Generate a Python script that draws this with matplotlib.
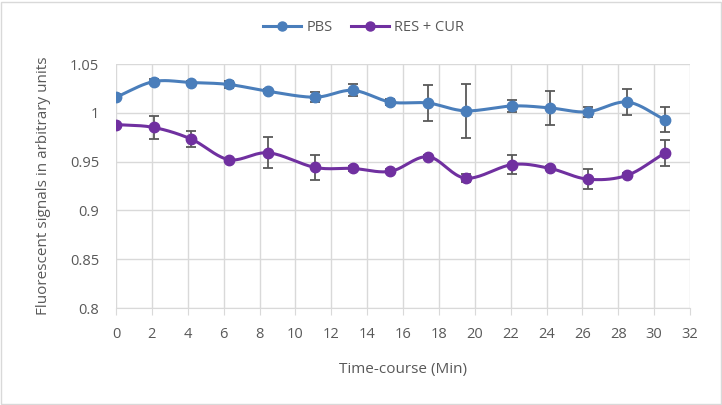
import numpy as np
import matplotlib
matplotlib.use("Agg")
import matplotlib.pyplot as plt
from matplotlib.patches import Rectangle

time_pbs = [0, 2.1, 4.2, 6.3, 8.5, 11.1, 13.2, 15.3, 17.4, 19.5, 22.1, 24.2, 26.3, 28.5, 30.6]
pbs = [1.016, 1.032, 1.031, 1.029, 1.022, 1.016, 1.023, 1.011, 1.010, 1.002, 1.007, 1.005, 1.001, 1.011, 0.993]
pbs_err = [0.003, 0.003, 0.002, 0.004, 0.002, 0.005, 0.006, 0.003, 0.018, 0.028, 0.006, 0.017, 0.005, 0.013, 0.013]

time_res = [0, 2.1, 4.2, 6.3, 8.5, 11.1, 13.2, 15.3, 17.4, 19.5, 22.1, 24.2, 26.3, 28.5, 30.6]
res = [0.988, 0.985, 0.973, 0.952, 0.959, 0.944, 0.943, 0.940, 0.955, 0.933, 0.947, 0.943, 0.932, 0.936, 0.959]
res_err = [0.001, 0.012, 0.008, 0.002, 0.016, 0.013, 0.003, 0.002, 0.002, 0.004, 0.010, 0.002, 0.010, 0.002, 0.013]

x_ticks = list(range(0, 33, 2))
y_ticks = [0.8, 0.85, 0.9, 0.95, 1.0, 1.05]
y_tick_labels = ["0.8", "0.85", "0.9", "0.95", "1", "1.05"]

plt.rcParams['font.family'] = ['Open Sans', 'DejaVu Sans']


def smooth(x, y, n=20, t=0.5):
    x = np.asarray(x, float); y = np.asarray(y, float)
    px = np.concatenate([[2 * x[0] - x[1]], x, [2 * x[-1] - x[-2]]])
    py = np.concatenate([[2 * y[0] - y[1]], y, [2 * y[-1] - y[-2]]])
    xs, ys = [], []
    for i in range(1, len(px) - 2):
        s = np.linspace(0, 1, n, endpoint=False)
        m1x = t * (px[i + 1] - px[i - 1]); m2x = t * (px[i + 2] - px[i])
        m1y = t * (py[i + 1] - py[i - 1]); m2y = t * (py[i + 2] - py[i])
        h00 = 2 * s**3 - 3 * s**2 + 1; h10 = s**3 - 2 * s**2 + s
        h01 = -2 * s**3 + 3 * s**2; h11 = s**3 - s**2
        xs.append(h00 * px[i] + h10 * m1x + h01 * px[i + 1] + h11 * m2x)
        ys.append(h00 * py[i] + h10 * m1y + h01 * py[i + 1] + h11 * m2y)
    xs.append([x[-1]]); ys.append([y[-1]])
    return np.concatenate(xs), np.concatenate(ys)


fig = plt.figure(figsize=(7.22, 4.05), dpi=100)
fig.patches.append(Rectangle((0.002, 0.002), 0.996, 0.994, transform=fig.transFigure,
                             fill=False, edgecolor="#d9d9d9", linewidth=1.0))
ax = fig.add_axes([116 / 722, 1 - 308 / 405, (690 - 116) / 722, (308 - 64) / 405])

blue = "#4a7ebb"
purple = "#7030a0"
err_c = "#595959"

for xs, ys, es, c, lab in [(time_pbs, pbs, pbs_err, blue, "PBS"), (time_res, res, res_err, purple, "RES + CUR")]:
    sx, sy = smooth(xs, ys)
    ax.plot(sx, sy, color=c, lw=2.2, zorder=3, solid_capstyle="round")
    ax.errorbar(xs, ys, yerr=es, fmt="none", ecolor=err_c, elinewidth=1.3, capsize=3.5, capthick=1.3, zorder=4)
    ax.plot(xs, ys, "o", color=c, ms=7.5, zorder=5)
    ax.plot([], [], "-o", color=c, lw=2.2, ms=6.5, label=lab)

ax.set_xlim(0, 32)
ax.set_ylim(0.8, 1.05)
ax.set_xticks(x_ticks)
ax.set_yticks(y_ticks)
ax.set_yticklabels(y_tick_labels)
ax.grid(True, color="#d9d9d9", lw=1)
ax.set_axisbelow(True)
for s in ["top", "right", "left"]:
    ax.spines[s].set_visible(False)
ax.spines["bottom"].set_color("#d9d9d9")
ax.tick_params(axis="both", colors="#595959", labelsize=10.5, length=0)
ax.tick_params(axis="y", pad=12)
ax.tick_params(axis="x", length=5, color="#d9d9d9", pad=9)
ax.set_xlabel("Time-course (Min)", color="#595959", fontsize=11, labelpad=14)
ax.set_ylabel("Fluorescent signals in arbitrary units", color="#595959", fontsize=11, labelpad=14)

leg = fig.legend(loc="center", bbox_to_anchor=(0.504, 0.933), ncol=2, frameon=False,
                 fontsize=10.5, labelcolor="#595959", handlelength=2.6, columnspacing=1.2, handletextpad=0.4)

fig.savefig("out.png", dpi=100)
